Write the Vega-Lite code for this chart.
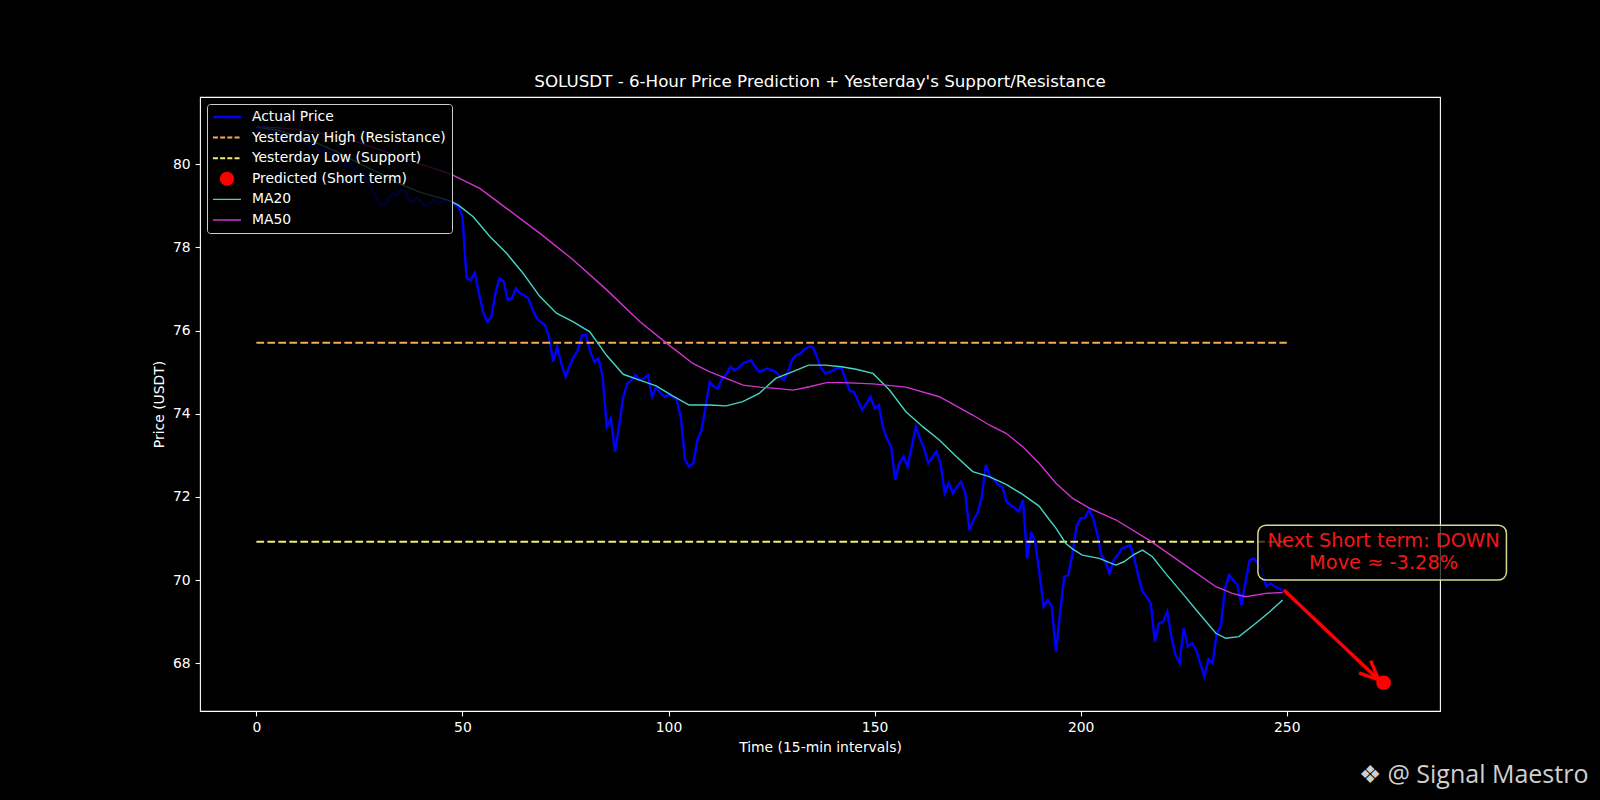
{
"$schema":"https://vega.github.io/schema/vega-lite/v6.json",
"width":1240,"height":614,
"autosize":{"type":"none"},
"padding":{"left":200,"top":97,"right":160,"bottom":89},
"background":"#000000",
"title":{"text":"SOLUSDT - 6-Hour Price Prediction + Yesterday's Support/Resistance","font":"DejaVu Sans","fontSize":16.7,"fontWeight":"normal","color":"#ffffff","anchor":"middle","offset":-7,"baseline":"alphabetic"},
"config":{
"view":{"stroke":"#ffffff","strokeWidth":1.1},
"axis":{"domain":false,"grid":false,"tickColor":"#ffffff","tickSize":4.9,"tickWidth":1.1,"labelColor":"#ffffff","labelFont":"DejaVu Sans","labelFontSize":13.9,"labelPadding":4.9,"titleColor":"#ffffff","titleFont":"DejaVu Sans","titleFontSize":13.9,"titleFontWeight":"normal","titlePadding":5.6},
"legend":{"title":null}
},
"datasets":{
"price":[
{"t":0,"p":80.9},{"t":1,"p":80.85},{"t":2,"p":80.95},{"t":3,"p":80.8},{"t":4,"p":80.75},{"t":5,"p":80.85},{"t":6,"p":80.7},{"t":7,"p":80.6},{"t":8,"p":80.72},{"t":9,"p":80.65},
{"t":10,"p":80.55},{"t":11,"p":80.62},{"t":12,"p":80.5},{"t":13,"p":80.4},{"t":14,"p":80.48},{"t":15,"p":80.35},{"t":16,"p":80.3},{"t":17,"p":80.42},{"t":18,"p":80.25},{"t":19,"p":80.15},
{"t":20,"p":80.22},{"t":21,"p":80.05},{"t":22,"p":79.95},{"t":23,"p":80.02},{"t":24,"p":79.85},{"t":25,"p":79.7},{"t":26,"p":79.78},{"t":27,"p":79.55},{"t":28,"p":79.4},{"t":29,"p":79.2},
{"t":30,"p":79.05},{"t":31,"p":79.0},{"t":32,"p":79.15},{"t":33,"p":79.3},{"t":34,"p":79.25},{"t":35,"p":79.4},{"t":36,"p":79.35},{"t":37,"p":79.15},{"t":38,"p":79.1},{"t":39,"p":79.2},
{"t":40,"p":79.1},{"t":41,"p":79.0},{"t":42,"p":79.05},{"t":43,"p":79.15},{"t":44,"p":79.05},{"t":45,"p":79.1},{"t":46,"p":79.15},{"t":47,"p":79.1},{"t":48,"p":79.05},{"t":49,"p":78.98},
{"t":50,"p":78.74},{"t":51,"p":77.26},{"t":52,"p":77.22},{"t":53,"p":77.39},{"t":54,"p":76.9},{"t":55,"p":76.45},{"t":56,"p":76.21},{"t":57,"p":76.33},{"t":58,"p":76.9},{"t":59,"p":77.26},
{"t":60,"p":77.18},{"t":61,"p":76.74},{"t":62,"p":76.78},{"t":63,"p":77.02},{"t":64,"p":76.9},{"t":65,"p":76.85},{"t":66,"p":76.78},{"t":67,"p":76.5},{"t":68,"p":76.3},{"t":69,"p":76.2},
{"t":70,"p":76.14},{"t":71,"p":75.85},{"t":72,"p":75.25},{"t":73,"p":75.61},{"t":74,"p":75.2},{"t":75,"p":74.89},{"t":76,"p":75.15},{"t":77,"p":75.37},{"t":78,"p":75.53},{"t":79,"p":75.89},
{"t":80,"p":75.89},{"t":81,"p":75.5},{"t":82,"p":75.25},{"t":83,"p":75.33},{"t":84,"p":74.9},{"t":85,"p":73.69},{"t":86,"p":73.89},{"t":87,"p":73.09},{"t":88,"p":73.7},{"t":89,"p":74.4},
{"t":90,"p":74.73},{"t":91,"p":74.81},{"t":92,"p":74.93},{"t":93,"p":74.81},{"t":94,"p":74.85},{"t":95,"p":74.93},{"t":96,"p":74.41},{"t":97,"p":74.65},{"t":98,"p":74.5},{"t":99,"p":74.41},
{"t":100,"p":74.45},{"t":101,"p":74.41},{"t":102,"p":74.33},{"t":103,"p":73.9},{"t":104,"p":72.9},{"t":105,"p":72.73},{"t":106,"p":72.81},{"t":107,"p":73.37},{"t":108,"p":73.6},{"t":109,"p":74.17},
{"t":110,"p":74.77},{"t":111,"p":74.65},{"t":112,"p":74.61},{"t":113,"p":74.85},{"t":114,"p":74.95},{"t":115,"p":75.13},{"t":116,"p":75.05},{"t":117,"p":75.1},{"t":118,"p":75.21},{"t":119,"p":75.25},
{"t":120,"p":75.29},{"t":121,"p":75.13},{"t":122,"p":75.01},{"t":123,"p":75.05},{"t":124,"p":75.09},{"t":125,"p":75.05},{"t":126,"p":75.01},{"t":127,"p":74.9},{"t":128,"p":74.81},{"t":129,"p":75.01},
{"t":130,"p":75.3},{"t":131,"p":75.41},{"t":132,"p":75.45},{"t":133,"p":75.55},{"t":134,"p":75.61},{"t":135,"p":75.61},{"t":136,"p":75.37},{"t":137,"p":75.1},{"t":138,"p":74.97},{"t":139,"p":75.0},
{"t":140,"p":75.05},{"t":141,"p":75.09},{"t":142,"p":75.1},{"t":143,"p":74.81},{"t":144,"p":74.55},{"t":145,"p":74.53},{"t":146,"p":74.3},{"t":147,"p":74.09},{"t":148,"p":74.25},{"t":149,"p":74.41},
{"t":150,"p":74.13},{"t":151,"p":74.21},{"t":152,"p":73.69},{"t":153,"p":73.4},{"t":154,"p":73.21},{"t":155,"p":72.41},{"t":156,"p":72.81},{"t":157,"p":72.97},{"t":158,"p":72.73},{"t":159,"p":73.2},
{"t":160,"p":73.69},{"t":161,"p":73.4},{"t":162,"p":73.17},{"t":163,"p":72.81},{"t":164,"p":72.95},{"t":165,"p":73.09},{"t":166,"p":72.81},{"t":167,"p":72.09},{"t":168,"p":72.33},{"t":169,"p":72.09},
{"t":170,"p":72.25},{"t":171,"p":72.37},{"t":172,"p":72.09},{"t":173,"p":71.2},{"t":174,"p":71.45},{"t":175,"p":71.61},{"t":176,"p":72.01},{"t":177,"p":72.77},{"t":178,"p":72.49},{"t":179,"p":72.41},
{"t":180,"p":72.29},{"t":181,"p":72.25},{"t":182,"p":71.89},{"t":183,"p":71.8},{"t":184,"p":71.73},{"t":185,"p":71.65},{"t":186,"p":71.93},{"t":187,"p":70.52},{"t":188,"p":71.16},{"t":189,"p":70.88},
{"t":190,"p":70.16},{"t":191,"p":69.36},{"t":192,"p":69.52},{"t":193,"p":69.36},{"t":194,"p":68.28},{"t":195,"p":69.2},{"t":196,"p":70.08},{"t":197,"p":70.12},{"t":198,"p":70.64},{"t":199,"p":71.3},
{"t":200,"p":71.49},{"t":201,"p":71.49},{"t":202,"p":71.69},{"t":203,"p":71.49},{"t":204,"p":71.13},{"t":205,"p":70.6},{"t":206,"p":70.44},{"t":207,"p":70.16},{"t":208,"p":70.48},{"t":209,"p":70.6},
{"t":210,"p":70.76},{"t":211,"p":70.8},{"t":212,"p":70.84},{"t":213,"p":70.52},{"t":214,"p":70.1},{"t":215,"p":69.72},{"t":216,"p":69.6},{"t":217,"p":69.44},{"t":218,"p":68.52},{"t":219,"p":68.96},
{"t":220,"p":69.0},{"t":221,"p":69.24},{"t":222,"p":68.64},{"t":223,"p":68.2},{"t":224,"p":68.0},{"t":225,"p":68.84},{"t":226,"p":68.4},{"t":227,"p":68.48},{"t":228,"p":68.32},{"t":229,"p":68.0},
{"t":230,"p":67.68},{"t":231,"p":68.1},{"t":232,"p":68.0},{"t":233,"p":68.72},{"t":234,"p":68.88},{"t":235,"p":69.8},{"t":236,"p":70.12},{"t":237,"p":70.0},{"t":238,"p":69.88},{"t":239,"p":69.4},
{"t":240,"p":69.96},{"t":241,"p":70.48},{"t":242,"p":70.52},{"t":243,"p":70.4},{"t":244,"p":70.28},{"t":245,"p":69.84},{"t":246,"p":69.92},{"t":247,"p":69.85},{"t":248,"p":69.8},{"t":249,"p":69.76}
],
"ma20":[
{"t":0,"v":80.9},{"t":5,"v":80.82},{"t":10,"v":80.68},{"t":15,"v":80.5},{"t":20,"v":80.28},{"t":25,"v":80.02},{"t":30,"v":79.78},{"t":35,"v":79.52},{"t":40,"v":79.32},{"t":45,"v":79.18},{"t":47,"v":79.12},{"t":49,"v":79.02},{"t":52.6,"v":78.74},{"t":56.7,"v":78.26},{"t":60.7,"v":77.86},{"t":64.7,"v":77.38},{"t":68.8,"v":76.82},{"t":72.8,"v":76.42},{"t":76.9,"v":76.21},{"t":80.9,"v":75.97},{"t":85,"v":75.4},{"t":89,"v":74.95},{"t":93,"v":74.81},{"t":97,"v":74.67},{"t":101,"v":74.43},{"t":105,"v":74.21},{"t":110,"v":74.21},{"t":114,"v":74.19},{"t":118,"v":74.29},{"t":122,"v":74.49},{"t":126,"v":74.85},{"t":130,"v":75.01},{"t":134,"v":75.17},{"t":138,"v":75.17},{"t":142,"v":75.13},{"t":145.5,"v":75.07},{"t":149.6,"v":74.97},{"t":153.6,"v":74.57},{"t":157.6,"v":74.05},{"t":161.7,"v":73.69},{"t":165.7,"v":73.37},{"t":169.8,"v":72.97},{"t":173.8,"v":72.61},{"t":177.8,"v":72.49},{"t":181.9,"v":72.3},{"t":185.9,"v":72.06},{"t":189.9,"v":71.78},{"t":192.4,"v":71.45},{"t":194,"v":71.25},{"t":196.4,"v":70.88},{"t":198,"v":70.75},{"t":200.4,"v":70.6},{"t":204.5,"v":70.52},{"t":208.5,"v":70.36},{"t":210.5,"v":70.44},{"t":213,"v":70.62},{"t":215,"v":70.72},{"t":217.4,"v":70.56},{"t":220.6,"v":70.16},{"t":224.7,"v":69.68},{"t":228.7,"v":69.2},{"t":232.8,"v":68.72},{"t":235.2,"v":68.6},{"t":238.4,"v":68.64},{"t":242.5,"v":68.96},{"t":246,"v":69.25},{"t":249,"v":69.52}
],
"ma50":[
{"t":0,"v":80.9},{"t":5,"v":80.88},{"t":10,"v":80.84},{"t":15,"v":80.76},{"t":20,"v":80.66},{"t":24.2,"v":80.54},{"t":30,"v":80.35},{"t":35,"v":80.18},{"t":40,"v":80.0},{"t":46.8,"v":79.78},{"t":54.2,"v":79.42},{"t":60.7,"v":78.94},{"t":68.8,"v":78.34},{"t":76.9,"v":77.7},{"t":85,"v":76.98},{"t":93,"v":76.22},{"t":99.5,"v":75.7},{"t":105.9,"v":75.21},{"t":110,"v":75.01},{"t":114,"v":74.85},{"t":118.1,"v":74.69},{"t":122.1,"v":74.64},{"t":126.1,"v":74.61},{"t":130.2,"v":74.57},{"t":134.2,"v":74.65},{"t":138.3,"v":74.75},{"t":142.3,"v":74.75},{"t":149.6,"v":74.72},{"t":157.6,"v":74.64},{"t":165.7,"v":74.41},{"t":173.8,"v":73.97},{"t":177.8,"v":73.73},{"t":181.9,"v":73.53},{"t":185.9,"v":73.21},{"t":189.9,"v":72.81},{"t":194,"v":72.33},{"t":198,"v":71.97},{"t":202.1,"v":71.73},{"t":208.5,"v":71.45},{"t":216.6,"v":70.96},{"t":224.7,"v":70.4},{"t":232.8,"v":69.84},{"t":236.8,"v":69.68},{"t":240,"v":69.6},{"t":244.9,"v":69.68},{"t":249,"v":69.7}
],
"levels":[{"s":"Yesterday High (Resistance)","y":75.71},{"s":"Yesterday Low (Support)","y":70.92}],
"arrow":[{"x":249.3,"y":69.76,"x2":272.3,"y2":67.6}],
"pred":[{"t":273.5,"p":67.53}],
"annot":[{"label":"Next Short term: DOWN\nMove ≈ -3.28%","t":273.5,"p":70.945}],
"mark":[{"w":"❖ @ Signal Maestro"}]
},
"layer":[
{"data":{"name":"price"},"mark":{"type":"line","strokeWidth":2.4},
"encoding":{
"x":{"field":"t","type":"quantitative","scale":{"domain":[-13.68,287.18],"nice":false,"zero":false},"axis":{"values":[0,50,100,150,200,250],"format":"d"},"title":"Time (15-min intervals)"},
"y":{"field":"p","type":"quantitative","scale":{"domain":[66.85,81.62],"nice":false,"zero":false},"axis":{"values":[68,70,72,74,76,78,80],"format":"d"},"title":"Price (USDT)"},
"color":{"datum":"Actual Price","type":"nominal","title":null,"scale":{"domain":["Actual Price","Yesterday High (Resistance)","Yesterday Low (Support)","Predicted (Short term)","MA20","MA50"],"range":["#0000ff","#f5ad55","#eeee77","#ff0000","#45d5c5","#d033d0"]},
"legend":{"title":null,"orient":"top-left","offset":7,"labelColor":"#ffffff","labelFont":"DejaVu Sans","labelFontSize":13.9,"labelLimit":400,"symbolType":"M-1,0H3","symbolSize":196,"symbolStrokeWidth":2,"labelOffset":25,"rowPadding":5.6,"padding":6,"fillColor":"rgba(0,0,0,0.8)","strokeColor":"#cccccc","cornerRadius":3,
"encode":{"symbols":{"update":{
"shape":{"signal":"datum.value === 'Predicted (Short term)' ? 'M2,0A1,1,0,1,1,0,0A1,1,0,1,1,2,0Z' : 'M-1,0H3'"},
"fill":{"signal":"datum.value === 'Predicted (Short term)' ? '#ff0000' : 'transparent'"},
"strokeDash":{"signal":"(datum.value === 'Yesterday High (Resistance)' || datum.value === 'Yesterday Low (Support)') ? [5,2.2] : [1,0]"},
"strokeWidth":{"signal":"datum.value === 'Actual Price' ? 2.4 : (datum.value === 'Predicted (Short term)' ? 0 : ((datum.value === 'MA20' || datum.value === 'MA50') ? 1.4 : 2))"}
}}}}}
}},
{"data":{"name":"levels"},"mark":{"type":"rule","strokeWidth":2,"strokeDash":[7.7,3.3]},
"encoding":{"x":{"datum":0,"type":"quantitative","title":"Time (15-min intervals)"},"x2":{"datum":250},"y":{"field":"y","type":"quantitative","title":"Price (USDT)"},"color":{"field":"s","type":"nominal","title":null}}},
{"data":{"name":"ma20"},"mark":{"type":"line","strokeWidth":1.4},
"encoding":{"x":{"field":"t","type":"quantitative","title":"Time (15-min intervals)"},"y":{"field":"v","type":"quantitative","title":"Price (USDT)"},"color":{"datum":"MA20","type":"nominal","title":null}}},
{"data":{"name":"ma50"},"mark":{"type":"line","strokeWidth":1.4},
"encoding":{"x":{"field":"t","type":"quantitative","title":"Time (15-min intervals)"},"y":{"field":"v","type":"quantitative","title":"Price (USDT)"},"color":{"datum":"MA50","type":"nominal","title":null}}},
{"data":{"name":"arrow"},"mark":{"type":"rule","color":"#ff0000","strokeWidth":3.5},
"encoding":{"x":{"field":"x","type":"quantitative","title":"Time (15-min intervals)"},"y":{"field":"y","type":"quantitative","title":"Price (USDT)"},"x2":{"field":"x2"},"y2":{"field":"y2"}}},
{"data":{"name":"arrow"},"mark":{"type":"point","shape":"M-1,-0.45L0,0L-1,0.45","angle":43.5,"filled":false,"stroke":"#ff0000","strokeWidth":3.5,"size":1444,"opacity":1},
"encoding":{"x":{"field":"x2","type":"quantitative","title":"Time (15-min intervals)"},"y":{"field":"y2","type":"quantitative","title":"Price (USDT)"}}},
{"data":{"name":"pred"},"mark":{"type":"point","filled":true,"size":215,"opacity":1},
"encoding":{"x":{"field":"t","type":"quantitative","title":"Time (15-min intervals)"},"y":{"field":"p","type":"quantitative","title":"Price (USDT)"},"color":{"datum":"Predicted (Short term)","type":"nominal","title":null}}},
{"data":{"name":"annot"},"mark":{"type":"rect","fill":"#000000","fillOpacity":0.7,"stroke":"#d8d88c","strokeWidth":1.5,"cornerRadius":8},
"encoding":{"x":{"datum":243.0,"type":"quantitative","title":"Time (15-min intervals)"},"x2":{"datum":303.3},"y":{"datum":71.32,"type":"quantitative","title":"Price (USDT)"},"y2":{"datum":70.0}}},
{"data":{"name":"annot"},"mark":{"type":"text","font":"DejaVu Sans","fontSize":19.4,"color":"#f01818","lineBreak":"\n","lineHeight":22,"align":"center","baseline":"middle"},
"encoding":{"x":{"field":"t","type":"quantitative","title":"Time (15-min intervals)"},"y":{"field":"p","type":"quantitative","title":"Price (USDT)"},"text":{"field":"label"}}},
{"data":{"name":"mark"},"mark":{"type":"text","font":"Open Sans","fontSize":25,"color":"#cfcfcf","align":"right","baseline":"alphabetic"},
"encoding":{"x":{"datum":323.2,"type":"quantitative","title":"Time (15-min intervals)"},"y":{"datum":65.12,"type":"quantitative","title":"Price (USDT)"},"text":{"field":"w"}}}
]
}
